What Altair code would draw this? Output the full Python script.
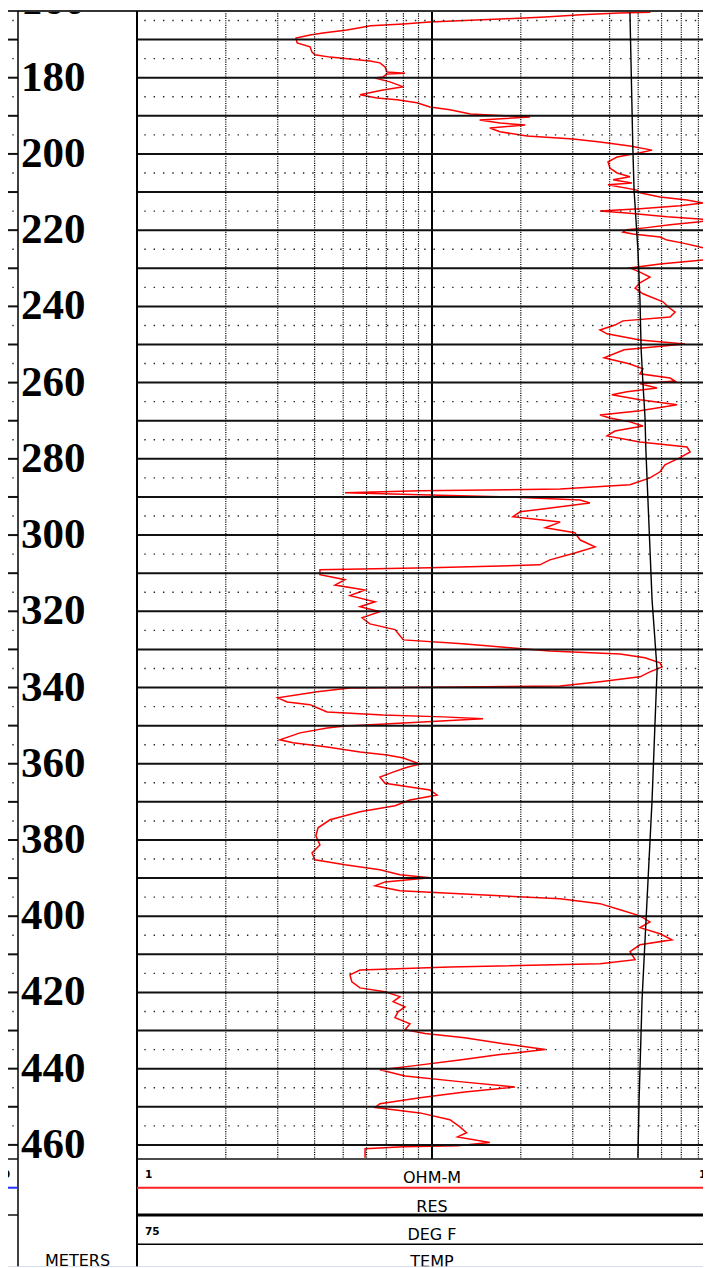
import altair as alt
import pandas as pd

# Resistivity curve (RES, ohm-m) against depth (m)
res_depth = [162.8,163.0,163.5,164.1,164.6,165.4,165.9,166.4,167.5,168.3,168.8,169.6,170.9,171.9,173.3,174.0,174.6,175.1,175.6,176.1,
             177.2,178.5,178.8,179.0,179.8,180.1,181.1,182.4,183.2,184.5,185.3,185.8,186.6,187.7,188.4,189.5,190.3,191.1,191.9,192.4,
             193.2,194.2,195.3,196.1,196.9,197.9,199.0,199.7,200.8,202.1,203.7,205.0,206.0,206.8,207.6,208.1,209.5,210.2,211.3,212.1,
             212.9,213.6,214.4,215.0,215.5,216.5,217.3,217.8,218.6,219.4,219.9,220.5,221.0,221.8,222.6,223.4,224.4,225.2,226.5,227.8,
             228.9,229.9,231.0,232.3,
             233.8,235.2,236.7,238.8,240.1,241.5,242.8,243.8,244.9,246.2,247.2,248.8,249.9,251.4,253.5,255.1,256.4,257.7,258.8,259.6,
             260.3,261.4,262.4,263.2,264.5,265.8,267.4,268.5,269.3,270.3,271.4,272.7,274.0,275.6,276.9,
             278.2,279.7,281.6,283.4,285.0,
             286.8,287.9,288.4,288.9,289.5,290.0,290.8,291.6,292.6,293.9,295.2,296.6,298.1,299.4,301.3,303.1,304.7,306.5,307.8,308.6,
             309.1,310.4,311.7,313.1,314.4,315.9,317.5,318.8,320.1,321.7,323.3,324.8,326.4,327.5,328.5,329.6,330.4,331.2,332.2,333.5,
             334.6,335.9,337.2,338.5,339.6,340.1,341.1,342.7,343.8,344.5,345.3,346.4,347.2,347.7,348.2,349.0,349.5,350.1,350.6,351.9,
             353.7,354.5,355.6,356.9,357.7,358.5,360.1,360.9,362.2,363.5,365.1,366.9,368.2,369.5,371.0,372.6,374.7,376.8,378.9,381.3,
             383.4,385.2,386.5,387.8,389.1,389.9,391.0,392.0,393.3,394.4,395.4,396.7,398.3,399.9,401.5,403.0,404.6,406.2,407.5,409.3,
             411.4,412.5,413.3,414.1,415.4,417.2,418.8,419.8,421.1,422.4,423.8,425.1,426.6,428.2,429.8,430.8,431.9,433.5,435.0,436.3,
             437.7,439.2,440.3,441.9,443.4,444.8,446.1,447.6,449.2,450.2,451.6,453.4,455.2,456.8,457.9,459.4,460.2,460.5,461.0,463.4]
res_ohmm = [55,43,32,24.2,17,9.8,8.0,6.2,5.15,4.27,3.86,3.46,3.49,3.86,3.92,4.01,4.51,5.27,6.16,6.66,
            6.93,7.04,8.10,7.04,6.82,6.41,7.20,8.0,6.82,5.70,6.51,7.61,8.89,9.84,11.5,13.5,21.5,14.5,17.0,20.7,
            15.7,17.0,21.0,30.1,37.1,46.9,55.7,50.7,42.4,39.5,40.1,42.4,46.9,41.1,47.6,39.5,49.5,50.7,59.3,73.2,
            82.9,69.3,50.7,37.1,45.8,62.6,87.6,81.0,64.1,52.7,45.8,44.4,48.0,59.3,62.6,71.0,81.0,87.6,91.0,84.2,
            59.3,46.9,50.7,54.8,
            50.7,48.8,51.9,60.7,63.1,66.7,64.1,44.4,41.7,37.1,39.2,50.7,72.0,44.8,38.3,46.9,51.9,50.7,64.1,66.7,
            50.7,57.9,45.8,40.7,50.7,67.7,50.7,37.1,40.1,46.9,51.9,41.7,39.2,50.7,73.2,
            75.0,69.3,61.6,59.3,54.8,
            46.9,27.2,9.10,5.07,9.84,18.4,31.8,34.3,27.2,19.9,18.8,27.2,24.2,30.5,31.8,35.7,30.5,25.1,23.2,9.84,
            4.17,4.17,5.07,4.69,5.93,5.27,6.41,5.70,6.66,5.79,6.16,7.49,7.79,8.0,12.7,18.8,25.1,43.4,52.7,59.3,
            60.2,54.8,50.7,37.1,27.2,5.27,4.08,3.0,3.23,3.86,4.08,4.41,6.82,10.9,14.9,9.62,7.20,5.07,4.41,3.57,
            3.05,3.38,4.41,5.70,7.04,8.0,9.10,8.23,7.38,6.66,6.93,9.84,10.4,8.42,7.49,5.70,4.51,4.11,4.04,4.17,
            3.92,4.01,5.07,6.66,7.79,9.84,6.93,6.41,7.79,14.5,27.2,37.1,43.4,50.7,54.8,50.7,59.3,65.1,50.7,46.9,
            48.8,37.1,11.5,5.70,5.27,5.35,5.70,6.93,7.79,7.38,8.10,7.67,7.49,8.42,8.10,9.47,12.9,17.7,24.2,17.0,
            12.4,8.75,6.66,8.10,12.4,19.1,12.9,9.10,6.66,6.41,9.10,11.5,12.4,13.1,12.2,15.7,12.2,8.0,5.93,5.93]

# Temperature curve (TEMP, deg F)
temp_depth = [162.8, 199.0, 209.5, 225.2, 238.3, 251.4, 260.1, 269.0, 277.7, 290.8, 317.0, 335.4, 343.2, 369.5, 395.7, 421.9, 448.1, 463.4]
temp_degf = [91.71, 91.81, 91.85, 91.98, 92.05, 92.09, 92.15, 92.22, 92.25, 92.32, 92.46, 92.63, 92.59, 92.46, 92.29, 92.12, 92.02, 91.98]

depth_labels = list(range(160, 461, 20))
depth_major = list(range(170, 461, 10))
depth_minor = list(range(165, 456, 10))
res_major = [10]
res_minor = [2, 3, 4, 5, 6, 7, 8, 9, 20, 30, 40, 50, 60, 70, 80, 90]

DEPTH_DOMAIN = [162.5, 463.7]
RES_DOMAIN = [1, 100]
TEMP_DOMAIN = [75, 95]

res_scale_left, res_scale_right, res_unit, res_name = "1", "100", "OHM-M", "RES"
temp_scale_left, temp_scale_right, temp_unit, temp_name = "75", "95", "DEG F", "TEMP"
left_scale_right = "100"
depth_unit = "METERS"

# ---------------- layout (chart pixels) ----------------
VIEW_W = 695          # svg width that fits the page
X_LEFT = -8           # left edge of the visible (cut) log
X_RIGHT = 703         # right edge of the visible (cut) log
DEPTH_X0 = 10         # depth column left border
MAIN_X0 = 129         # main track left border
MAIN_X1 = 719         # main track right edge (outside the visible area)
TRACK_H = 1148
FOOT_H = 108
TOTAL_H = TRACK_H + FOOT_H
SANS = "DejaVu Sans"

ydepth = alt.Scale(domain=DEPTH_DOMAIN, range=[0, TRACK_H], zero=False, nice=False)
xres = alt.Scale(type="log", domain=RES_DOMAIN, range=[MAIN_X0, MAIN_X1], nice=False)
xtemp = alt.Scale(domain=TEMP_DOMAIN, range=[MAIN_X0, MAIN_X1], zero=False, nice=False)

res_df = pd.DataFrame({"depth": res_depth, "res": res_ohmm, "i": range(len(res_depth))})
temp_df = pd.DataFrame({"depth": temp_depth, "temp": temp_degf, "i": range(len(temp_depth))})
hmaj_df = pd.DataFrame({"depth": depth_major})
hmin_df = pd.DataFrame({"depth": depth_minor})
vmaj_df = pd.DataFrame({"res": res_major})
vmin_df = pd.DataFrame({"res": res_minor})
depth_df = pd.DataFrame({"depth": depth_labels, "label": [str(d) for d in depth_labels]})

Y = alt.Y("depth:Q", scale=ydepth, axis=None)
XR = alt.X("res:Q", scale=xres, axis=None)
ONE = pd.DataFrame({"k": [0]})


def hrule(y, x0, x1, color="#000", width=1.5):
    return alt.Chart(ONE).mark_rule(color=color, strokeWidth=width).encode(
        y=alt.value(y), x=alt.value(x0), x2=alt.value(x1))


def vrule(x, y0, y1, color="#000", width=1.5):
    return alt.Chart(ONE).mark_rule(color=color, strokeWidth=width).encode(
        x=alt.value(x), y=alt.value(y0), y2=alt.value(y1))


def hgrid(x0, x1, offset):
    minor = alt.Chart(hmin_df).mark_rule(color="#222", strokeWidth=1.4, strokeDash=[1.4, 7.93],
                                          strokeDashOffset=offset).encode(
        y=Y, x=alt.value(x0), x2=alt.value(x1))
    major = alt.Chart(hmaj_df).mark_rule(color="#111", strokeWidth=2).encode(
        y=Y, x=alt.value(x0), x2=alt.value(x1))
    return [minor, major]


def label(text, xval, scale, y, align, dx=0, size=16, weight="normal"):
    df = pd.DataFrame({"t": [text], "v": [xval]})
    return alt.Chart(df).mark_text(font=SANS, fontSize=size, fontWeight=weight, align=align,
                                   dx=dx, color="#000").encode(
        x=alt.X("v:Q", scale=scale, axis=None), y=alt.value(y), text="t:N")


# resistivity curve (drawn under the grid, as in the log)
red = alt.Chart(res_df).mark_line(color="#ff0000", strokeWidth=1.5).encode(
    x=XR, y=Y, order="i:Q")

vmin = alt.Chart(vmin_df).mark_rule(color="#000", strokeWidth=1.2, strokeDash=[1.1, 1.2]).encode(
    x=XR, y=alt.value(0), y2=alt.value(TRACK_H))
vmaj = alt.Chart(vmaj_df).mark_rule(color="#000", strokeWidth=2).encode(
    x=XR, y=alt.value(0), y2=alt.value(TRACK_H))

temp = alt.Chart(temp_df).mark_line(color="#000", strokeWidth=1.4).encode(
    x=alt.X("temp:Q", scale=xtemp, axis=None), y=Y, order="i:Q")

depth_text = alt.Chart(depth_df).mark_text(
    font="Liberation Serif", fontSize=43, fontWeight="bold", align="left", baseline="middle",
    color="#000").encode(x=alt.value(DEPTH_X0 + 3), y=Y, text="label:N")

# white band above the log: the first depth label is cut by the top border
top_mask = alt.Chart(ONE).mark_rect(color="white").encode(
    x=alt.value(X_LEFT), x2=alt.value(X_RIGHT), y=alt.value(-12), y2=alt.value(-0.5))

meters = alt.Chart(pd.DataFrame({"t": [depth_unit]})).mark_text(
    font=SANS, fontSize=16, align="center", color="#000").encode(
    x=alt.value((DEPTH_X0 + MAIN_X0) / 2), y=alt.value(TRACK_H + 102), text="t:N")

left_label = alt.Chart(pd.DataFrame({"t": [left_scale_right]})).mark_text(
    font=SANS, fontSize=10.5, fontWeight="bold", align="right", color="#000").encode(
    x=alt.value(2), y=alt.value(TRACK_H + 16), text="t:N")

F = TRACK_H
layers = [
    red, vmin, vmaj,
    *hgrid(MAIN_X0, X_RIGHT, 2.03),
    *hgrid(X_LEFT, DEPTH_X0, 6.33),
    temp,
    depth_text,
    top_mask,
    # borders
    hrule(0, X_LEFT, X_RIGHT, "#333", 2),
    vrule(DEPTH_X0, 0, TOTAL_H, "#000", 1.5),
    vrule(MAIN_X0, 0, TOTAL_H, "#000", 2),
    hrule(F, X_LEFT, DEPTH_X0, "#111", 1.5),
    hrule(F, MAIN_X0, X_RIGHT, "#111", 1.5),
    # footer: main track
    label(res_scale_left, RES_DOMAIN[0], xres, F + 16, "left", dx=8, size=10.5, weight="bold"),
    label(res_scale_right, RES_DOMAIN[1], xres, F + 16, "right", dx=-6, size=10.5, weight="bold"),
    label(res_unit, 10, xres, F + 19, "center"),
    hrule(F + 28.7, MAIN_X0, X_RIGHT, "#ff2020", 2),
    label(res_name, 10, xres, F + 47.7, "center"),
    hrule(F + 56, MAIN_X0, X_RIGHT, "#000", 3),
    label(temp_scale_left, TEMP_DOMAIN[0], xtemp, F + 72.7, "left", dx=8, size=10.5, weight="bold"),
    label(temp_scale_right, TEMP_DOMAIN[1], xtemp, F + 72.7, "right", dx=-6, size=10.5, weight="bold"),
    label(temp_unit, 85, xtemp, F + 76, "center"),
    hrule(F + 85.3, MAIN_X0, X_RIGHT, "#000", 1.5),
    label(temp_name, 85, xtemp, F + 102.7, "center"),
    # footer: left track and depth column
    left_label,
    hrule(F + 28.7, X_LEFT, DEPTH_X0, "#2030ff", 2),
    hrule(F + 56, X_LEFT, DEPTH_X0, "#111", 1.5),
    meters,
    hrule(TOTAL_H, X_LEFT, X_RIGHT, "#c8d4e4", 1.5),
]

chart = alt.layer(*layers).resolve_scale(x="independent").properties(
    width=VIEW_W, height=TOTAL_H,
    autosize=alt.AutoSizeParams(type="none"),
    padding={"left": 0, "top": 3, "right": 0, "bottom": 0},
    background="white",
).configure_view(stroke="transparent")

chart.save("out.html", embed_options={"renderer": "svg", "actions": False})
